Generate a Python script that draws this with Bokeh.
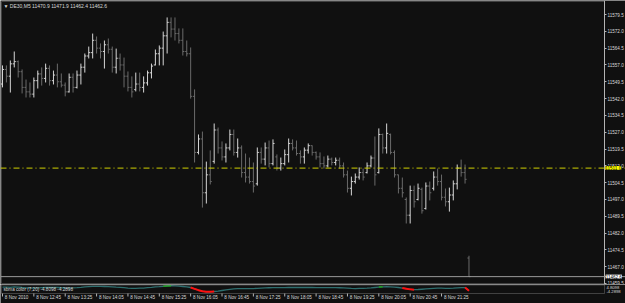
import numpy as np
from bokeh.plotting import figure
from bokeh.models import (Range1d, FixedTicker, Label, Span, ColumnDataSource, PrintfTickFormatter,
                          BoxAnnotation, LinearAxis)
from bokeh.layouts import column
from bokeh.embed import file_html
from bokeh.resources import INLINE
from bokeh.core.properties import value

# ---------------- data ----------------
header_text = "\u25bc DE30,M5  11470.9 11471.9 11462.4 11462.6"
indicator_text = "sbma color (7,20)  -4.8098  -4.2898"
indicator_scale = ["4.8098", "-4.2898"]

opens = [11548.5, 11555.0, 11552.0, 11557.5, 11558.5, 11554.0, 11547.0, 11545.0, 11544.0, 11550.0,
         11553.0, 11551.0, 11555.5, 11550.0, 11552.5, 11549.5, 11548.0, 11545.0, 11551.5, 11547.0,
         11552.5, 11556.0, 11561.0, 11562.5, 11568.0, 11564.5, 11563.0, 11566.0, 11564.0, 11556.0,
         11560.0, 11557.0, 11552.0, 11547.0, 11546.0, 11548.5, 11547.0, 11549.0, 11553.5, 11557.0,
         11562.0, 11564.5, 11570.0, 11576.0, 11573.0, 11571.0, 11568.0, 11563.0, 11562.0, 11543.0,
         11518.0, 11524.0, 11500.0, 11508.0, 11514.0, 11528.0, 11520.0, 11516.0, 11520.0, 11526.0,
         11518.0, 11520.0, 11509.0, 11507.0, 11505.0, 11504.0, 11518.0, 11515.0, 11520.0, 11513.0,
         11516.0, 11511.0, 11513.0, 11517.0, 11522.0, 11520.0, 11517.5, 11516.0, 11519.0, 11521.0,
         11518.0, 11516.0, 11513.0, 11512.0, 11515.0, 11513.5, 11514.5, 11512.0, 11508.0, 11502.0,
         11505.0, 11507.0, 11509.0, 11509.0, 11512.0, 11515.5, 11509.0, 11526.0, 11520.0, 11526.0,
         11518.0, 11508.0, 11502.0, 11497.0, 11490.0, 11501.0, 11497.0, 11501.5, 11493.0, 11503.0,
         11502.0, 11507.0, 11505.0, 11498.0, 11496.0, 11499.0, 11504.0, 11511.0, 11509.0, 11470.9]
highs = [11556.8, 11556.8, 11559.0, 11563.0, 11559.0, 11555.0, 11550.5, 11549.2, 11551.4, 11554.5,
         11555.9, 11557.6, 11556.8, 11554.5, 11557.6, 11553.2, 11549.2, 11553.2, 11553.2, 11554.5,
         11557.6, 11562.1, 11565.2, 11571.0, 11569.7, 11566.6, 11567.9, 11568.8, 11565.2, 11564.3,
         11562.1, 11560.3, 11554.1, 11551.9, 11553.6, 11553.6, 11551.9, 11554.5, 11557.6, 11563.9,
         11565.7, 11571.9, 11578.2, 11578.2, 11578.2, 11573.3, 11573.3, 11567.9, 11564.8, 11546.1,
         11526.0, 11527.3, 11513.9, 11518.9, 11530.9, 11529.1, 11522.9, 11522.0, 11528.2, 11528.2,
         11524.2, 11521.1, 11517.5, 11515.7, 11513.5, 11520.2, 11520.2, 11522.4, 11523.3, 11523.8,
         11517.1, 11515.7, 11519.3, 11524.2, 11523.8, 11523.3, 11518.9, 11520.2, 11522.0, 11521.1,
         11518.4, 11518.0, 11516.2, 11516.6, 11515.7, 11515.7, 11515.7, 11513.5, 11509.9, 11507.2,
         11508.6, 11511.3, 11510.8, 11513.5, 11516.6, 11525.1, 11528.7, 11526.4, 11530.9, 11526.4,
         11518.9, 11508.1, 11506.8, 11497.9, 11503.2, 11503.2, 11504.1, 11502.3, 11504.6, 11505.0,
         11509.5, 11510.8, 11508.1, 11501.9, 11502.3, 11505.5, 11512.6, 11514.8, 11512.6, 11471.9]
lows = [11547.0, 11549.2, 11544.7, 11555.9, 11551.4, 11544.3, 11542.5, 11542.5, 11542.5, 11546.5,
        11547.8, 11549.2, 11547.8, 11548.3, 11547.0, 11547.0, 11543.0, 11544.7, 11544.7, 11546.5,
        11548.3, 11553.6, 11559.9, 11559.9, 11562.1, 11559.9, 11555.4, 11562.1, 11553.6, 11553.2,
        11554.5, 11547.0, 11545.2, 11542.5, 11545.2, 11545.2, 11544.7, 11547.8, 11551.0, 11556.8,
        11556.8, 11556.8, 11562.1, 11569.3, 11567.9, 11566.6, 11561.2, 11560.8, 11542.0, 11513.5,
        11517.1, 11493.4, 11495.2, 11503.7, 11513.0, 11517.5, 11514.4, 11513.5, 11518.9, 11516.6,
        11515.7, 11506.8, 11504.6, 11504.1, 11500.1, 11503.2, 11513.0, 11512.2, 11511.3, 11512.2,
        11509.9, 11509.9, 11512.2, 11513.5, 11518.9, 11516.6, 11513.0, 11513.0, 11517.5, 11516.6,
        11514.8, 11511.3, 11510.8, 11511.3, 11512.2, 11512.2, 11510.8, 11506.8, 11500.1, 11498.8,
        11504.1, 11505.9, 11505.5, 11508.6, 11511.3, 11503.2, 11508.6, 11517.5, 11517.5, 11517.1,
        11506.8, 11499.7, 11497.9, 11486.3, 11486.3, 11493.4, 11496.6, 11490.7, 11492.5, 11496.6,
        11501.0, 11503.2, 11496.6, 11493.9, 11491.6, 11496.6, 11501.5, 11507.2, 11504.1, 11462.4]
closes = [11555.0, 11552.0, 11557.5, 11558.5, 11554.0, 11547.0, 11545.0, 11544.0, 11550.0, 11553.0,
          11551.0, 11555.5, 11550.0, 11552.5, 11549.5, 11548.0, 11545.0, 11551.5, 11547.0, 11552.5,
          11556.0, 11561.0, 11562.5, 11568.0, 11564.5, 11563.0, 11566.0, 11564.0, 11556.0, 11560.0,
          11557.0, 11552.0, 11547.0, 11545.0, 11548.5, 11547.0, 11549.0, 11553.5, 11556.5, 11562.0,
          11564.5, 11570.0, 11576.0, 11573.0, 11571.0, 11568.0, 11563.0, 11562.0, 11543.0, 11518.0,
          11524.0, 11500.0, 11508.0, 11505.0, 11528.0, 11520.0, 11516.0, 11520.0, 11526.0, 11518.0,
          11520.0, 11509.0, 11507.0, 11505.0, 11503.0, 11518.0, 11515.0, 11520.0, 11513.0, 11522.0,
          11511.0, 11513.0, 11517.0, 11522.0, 11520.0, 11517.5, 11516.0, 11519.0, 11521.0, 11518.0,
          11516.0, 11513.0, 11512.0, 11515.0, 11513.5, 11514.5, 11512.0, 11508.0, 11502.0, 11505.0,
          11507.0, 11509.0, 11507.0, 11512.0, 11515.5, 11508.0, 11526.0, 11520.0, 11526.5, 11518.0,
          11508.0, 11502.0, 11500.0, 11490.0, 11501.0, 11496.0, 11502.0, 11492.0, 11503.0, 11500.0,
          11507.0, 11505.0, 11498.0, 11496.0, 11499.0, 11504.0, 11511.0, 11509.0, 11506.0, 11462.6]

indicator = [0.5, 0.5, 0.3, 0.8, 0.6, 0.0, -0.5, -1.0, -1.0, -0.6,
             -0.3, 0.0, 0.0, 0.2, 0.0, -0.4, -0.8, -0.8, -0.6, -0.3,
             0.2, 0.8, 1.2, 1.6, 1.8, 1.6, 1.5, 1.4, 1.0, 0.6,
             0.3, -0.2, -0.8, -1.2, -1.2, -1.0, -0.8, -0.3, 0.2, 0.8,
             1.2, 1.8, 2.4, 2.6, 2.4, 2.0, 1.5, 1.0, 0.0, -2.0,
             -4.0, -5.5, -6.5, -6.5, -6.0, -5.5, -4.5, -3.5, -2.8, -2.2,
             -1.8, -1.6, -1.6, -1.6, -1.6, -1.2, -0.8, -0.6, -0.4, -0.3,
             -0.3, -0.3, -0.2, 0.0, 0.0, 0.0, 0.0, 0.0, 0.0, 0.0,
             -0.2, -0.3, -0.3, -0.3, -0.3, -0.3, -0.4, -0.6, -1.0, -1.4,
             -1.6, -1.4, -1.2, -1.0, -0.6, 0.0, 0.6, 1.0, 1.2, 1.0,
             0.6, 0.0, -0.8, -1.8, -2.8, -3.2, -3.0, -2.6, -2.2, -1.8,
             -1.4, -1.0, -1.0, -1.2, -1.2, -1.0, -0.6, -0.2, -0.1, -4.8]
red_spans = [(48, 54), (102, 105), (118, 119)]
green_spans = [(41, 43), (96, 97)]

price_ticks = [11459.5, 11467.0, 11474.5, 11482.0, 11489.5, 11497.0, 11504.5, 11512.0, 11519.5,
               11527.0, 11534.5, 11542.0, 11549.5, 11557.0, 11564.5, 11572.0, 11579.5]
hline_level = 11511.0
bid_level = 11462.6

date_pos = [0, 8, 16, 24, 32, 40, 48, 56, 64, 72, 80, 88, 96, 104, 112]
date_labels = ["8 Nov 2010", "8 Nov 12:45", "8 Nov 13:25", "8 Nov 14:05", "8 Nov 14:45",
               "8 Nov 15:25", "8 Nov 16:05", "8 Nov 16:45", "8 Nov 17:25", "8 Nov 18:05",
               "8 Nov 18:45", "8 Nov 19:25", "8 Nov 20:05", "8 Nov 20:45", "8 Nov 21:25"]

# ---------------- style / geometry ----------------
BG = "#101010"
FRAME = "#b4b4b4"
UP = "#d6d6d6"
DOWN = "#6a6a6a"
TXT = "#d8d8d8"
FONT = "Liberation Sans"

X_LEFT, X_RIGHT = -0.255, 153.57      # chart area edges (bar-index units)
Y_TOP, Y_BOTTOM = 11585.3, 11459.53   # chart area edges (price)

n = len(opens)
idx = np.arange(n)
o = np.array(opens); c = np.array(closes)
cols = np.where(c >= o, UP, DOWN)
src = ColumnDataSource(dict(x=idx, xl=idx - 0.4, xr=idx + 0.4, o=opens, h=highs, l=lows, c=closes, col=cols))

xr = Range1d(-0.51, 158.93)
p = figure(width=625, height=284, x_range=xr, y_range=Range1d(11459.09, 11585.75),
           x_axis_location=None, y_axis_location=None, output_backend="svg", toolbar_location=None,
           min_border_left=0, min_border_right=0, min_border_top=0, min_border_bottom=0,
           background_fill_color=BG, border_fill_color=BG, outline_line_color=None)
p.grid.visible = False

ax = LinearAxis(ticker=FixedTicker(ticks=price_ticks), formatter=PrintfTickFormatter(format="%.1f"),
                fixed_location=X_RIGHT)
ax.axis_line_color = FRAME
ax.major_tick_line_color = FRAME
ax.major_tick_out = 2
ax.major_tick_in = 0
ax.minor_tick_out = 0
ax.minor_tick_in = 0
ax.major_label_standoff = 1
ax.major_label_text_font = FONT
ax.major_label_text_font_size = "4.6px"
ax.major_label_text_color = TXT
p.add_layout(ax, "right")

p.add_layout(BoxAnnotation(left=X_LEFT, right=X_RIGHT, top=Y_TOP, bottom=Y_BOTTOM,
                           fill_alpha=0, line_color=FRAME, line_width=1, level="underlay"))

p.segment(x0="x", y0="l", x1="x", y1="h", color="col", line_width=1, source=src)
p.segment(x0="xl", y0="o", x1="x", y1="o", color="col", line_width=1, source=src)
p.segment(x0="x", y0="c", x1="xr", y1="c", color="col", line_width=1, source=src)

p.add_layout(Span(location=hline_level, dimension="width", line_color="#d0d000", line_dash="6 3 1 3", line_width=1))
p.add_layout(Span(location=bid_level, dimension="width", line_color="#9a9a9a", line_width=1))

p.add_layout(Label(x=0.25, y=11583.3, text=header_text, text_font=FONT, text_font_size="5px",
                   text_color=TXT, text_baseline="middle"))
p.add_layout(Label(x=X_RIGHT + 0.2, y=hline_level, text=f"{hline_level:.1f}", text_font=FONT,
                   text_font_size="4.6px", text_color="#000000", text_baseline="middle",
                   background_fill_color="#ffff00"))
p.add_layout(Label(x=X_RIGHT + 0.3, y=bid_level, text=f"{bid_level:.1f}", text_font=FONT,
                   text_font_size="4.6px", text_color="#000000", text_baseline="middle",
                   background_fill_color="#ffffff"))

# ---------------- indicator pane ----------------
q = figure(width=625, height=19, x_range=xr, y_range=Range1d(-19, 0),
           x_axis_location=None, y_axis_location=None, output_backend="svg", toolbar_location=None,
           min_border_left=0, min_border_right=0, min_border_top=0, min_border_bottom=0,
           background_fill_color=BG, border_fill_color=BG, outline_line_color=None)
q.grid.visible = False
q.extra_y_ranges = {"ind": Range1d(-24, 4.5)}
q.add_layout(BoxAnnotation(left=X_LEFT, right=X_RIGHT, top=-0.5, bottom=-9, fill_alpha=0,
                           line_color=FRAME, line_width=1))
q.line(idx, indicator, y_range_name="ind", line_color="#2e6e6e", line_width=1.3)
ind = np.array(indicator)
q.multi_line(xs=[list(idx[a:b + 1]) for a, b in red_spans], ys=[list(ind[a:b + 1]) for a, b in red_spans],
             y_range_name="ind", line_color="#ff1010", line_width=2)
q.multi_line(xs=[list(idx[a:b + 1]) for a, b in green_spans], ys=[list(ind[a:b + 1]) for a, b in green_spans],
             y_range_name="ind", line_color="#20a020", line_width=1.5)
q.add_layout(Label(x=0.25, y=-5, text=indicator_text, text_font=FONT, text_font_size="4.6px",
                   text_color=TXT, text_baseline="middle"))
q.add_layout(Label(x=X_RIGHT + 0.5, y=-3, text=indicator_scale[0], text_font=FONT, text_font_size="4.2px",
                   text_color=TXT, text_baseline="middle"))
q.add_layout(Label(x=X_RIGHT + 0.5, y=-7, text=indicator_scale[1], text_font=FONT, text_font_size="4.2px",
                   text_color=TXT, text_baseline="middle"))

dp = np.array(date_pos)
q.segment(x0=dp, y0=-9, x1=dp, y1=-12, color=FRAME, line_width=1)
q.text(x=dp + 0.6, y=-13, text=date_labels, text_font=value(FONT), text_font_size="4.6px",
       text_color=TXT, text_baseline="middle", text_align="left")

layout = column(p, q, spacing=0)
open("out.html", "w").write(file_html(layout, INLINE))
